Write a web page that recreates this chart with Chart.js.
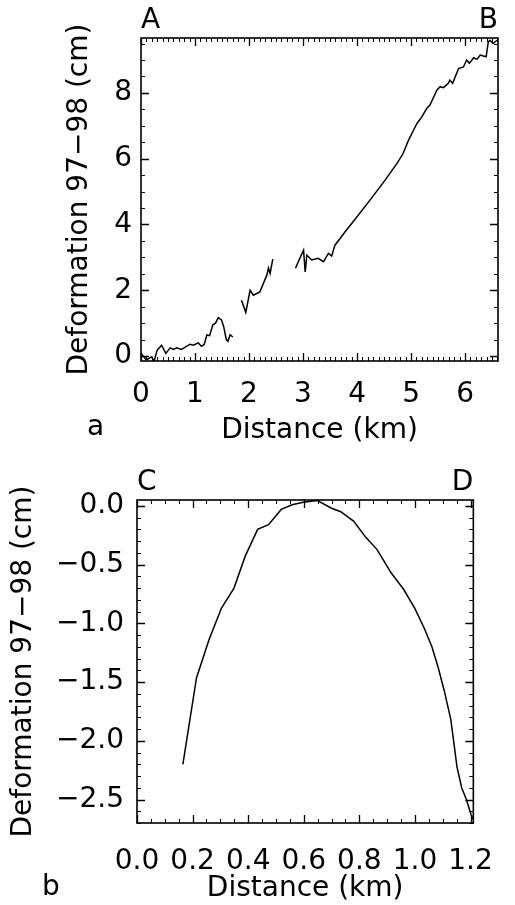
<!DOCTYPE html>
<html>
<head>
<meta charset="utf-8">
<script src="https://cdn.jsdelivr.net/npm/chart.js@4.4.1/dist/chart.umd.min.js"></script>
<style>
  body { margin: 0; background: #fff; }
  #wrap { position: relative; width: 515px; height: 905px; overflow: hidden; }
  canvas { position: absolute; left: 0; }
</style>
</head>
<body>
<div id="wrap">
  <canvas id="chartA" width="515" height="460" style="top:0"></canvas>
  <canvas id="chartB" width="515" height="460" style="top:460px"></canvas>
</div>
<script>
// panel a: profile A-B, three pieces with gaps between them
const distA1 = [0.00, 0.10, 0.20, 0.24, 0.30, 0.38, 0.46, 0.54, 0.60, 0.66, 0.75, 0.85, 0.91, 0.97, 1.06, 1.12, 1.17, 1.22, 1.27, 1.33, 1.38, 1.43, 1.49, 1.53, 1.58, 1.61, 1.65, 1.70];
const defA1  = [0.08, -0.12, -0.02, -0.17, 0.18, 0.33, 0.08, 0.25, 0.20, 0.25, 0.20, 0.30, 0.36, 0.33, 0.40, 0.30, 0.35, 0.64, 0.62, 0.95, 1.00, 1.17, 1.10, 0.90, 0.50, 0.45, 0.65, 0.58];
const distA2 = [1.86, 1.94, 2.02, 2.08, 2.20, 2.33, 2.36, 2.39, 2.44];
const defA2  = [1.70, 1.33, 2.00, 1.85, 1.95, 2.46, 2.68, 2.51, 2.95];
const distA3 = [2.86, 2.94, 3.01, 3.04, 3.07, 3.16, 3.28, 3.38, 3.47, 3.53, 3.59, 3.69, 3.78, 3.96, 4.24, 4.52, 4.74, 4.85, 4.95, 5.05, 5.11, 5.20, 5.29, 5.35, 5.48, 5.54, 5.60, 5.69, 5.72, 5.77, 5.88, 5.97, 6.03, 6.08, 6.16, 6.22, 6.28, 6.34, 6.39, 6.43, 6.46, 6.52, 6.59];
const defA3  = [2.67, 2.97, 3.22, 2.56, 3.07, 2.92, 2.97, 2.87, 3.12, 3.04, 3.37, 3.58, 3.78, 4.15, 4.74, 5.35, 5.86, 6.15, 6.55, 6.88, 7.07, 7.27, 7.53, 7.63, 8.09, 8.19, 8.16, 8.29, 8.39, 8.29, 8.74, 8.79, 9.00, 8.90, 9.07, 9.02, 9.15, 9.12, 9.10, 9.55, 9.60, 9.50, 9.60];
const xTicksA = [0, 1, 2, 3, 4, 5, 6];
const yTicksA = [0, 2, 4, 6, 8];

// panel b: profile C-D
const distB = [0.165, 0.214, 0.259, 0.304, 0.349, 0.389, 0.434, 0.473, 0.519, 0.558, 0.598, 0.649, 0.700, 0.733, 0.779, 0.824, 0.863, 0.886, 0.914, 0.959, 0.999, 1.033, 1.061, 1.084, 1.106, 1.129, 1.140, 1.151, 1.168, 1.185, 1.202, 1.210];
const defB  = [-2.20, -1.465, -1.14, -0.87, -0.70, -0.43, -0.20, -0.16, -0.03, 0.01, 0.03, 0.045, -0.02, -0.05, -0.13, -0.27, -0.37, -0.46, -0.57, -0.71, -0.87, -1.04, -1.20, -1.38, -1.58, -1.82, -2.02, -2.22, -2.40, -2.50, -2.63, -2.67];
const xTicksB = [0, 0.2, 0.4, 0.6, 0.8, 1.0, 1.2];
const yTicksB = [0, -0.5, -1.0, -1.5, -2.0, -2.5];

const yTitle = 'Deformation 97\u221298 (cm)';
const xTitle = 'Distance (km)';

Chart.defaults.font.family = '"DejaVu Sans", sans-serif';
Chart.defaults.font.size = 28;
Chart.defaults.color = '#000';

const toPoints = (xs, ys) => xs.map((x, i) => ({ x, y: ys[i] }));
const minus = s => s.replace('-', '\u2212');

// frame, inward ticks on all four sides, and the letters around the plot
const frameTicks = {
  id: 'frameTicks',
  afterDraw(chart, args, o) {
    const { ctx, chartArea: a, scales: { x, y } } = chart;
    ctx.save();
    ctx.strokeStyle = '#000';
    ctx.lineWidth = 1;
    const marks = (scale, step, len) => {
      const lo = Math.ceil(scale.min / step - 1e-6), hi = Math.floor(scale.max / step + 1e-6);
      for (let i = lo; i <= hi; i++) {
        const p = Math.round(scale.getPixelForValue(i * step)) + 0.5;
        ctx.beginPath();
        if (scale.isHorizontal()) {
          ctx.moveTo(p, a.bottom); ctx.lineTo(p, a.bottom - len);
          ctx.moveTo(p, a.top); ctx.lineTo(p, a.top + len);
        } else {
          ctx.moveTo(a.left, p); ctx.lineTo(a.left + len, p);
          ctx.moveTo(a.right, p); ctx.lineTo(a.right - len, p);
        }
        ctx.stroke();
      }
    };
    marks(x, o.xMinor, 4);
    marks(y, o.yMinor, 4);
    ctx.lineWidth = 1.3;
    marks(x, o.xMajor, 8);
    marks(y, o.yMajor, 8);
    ctx.lineWidth = 1.6;
    ctx.strokeRect(a.left, a.top, a.right - a.left, a.bottom - a.top);

    ctx.fillStyle = '#000';
    ctx.font = '28px "DejaVu Sans"';
    ctx.textBaseline = 'alphabetic';
    ctx.textAlign = 'left';
    ctx.fillText(o.left, a.left, a.top - 10);
    ctx.textAlign = 'right';
    ctx.fillText(o.right, a.right, a.top - 10);
    ctx.textAlign = 'left';
    ctx.fillText(o.panel, o.panelX, o.panelY);
    ctx.restore();
  }
};

function options(cfg) {
  return {
    responsive: false,
    animation: false,
    layout: { padding: cfg.padding },
    plugins: {
      legend: { display: false },
      tooltip: { enabled: false },
      frameTicks: cfg.marks
    },
    scales: {
      x: {
        type: 'linear',
        min: cfg.xMin, max: cfg.xMax,
        grid: { display: false, drawTicks: false },
        border: { display: false },
        afterBuildTicks: s => { s.ticks = cfg.xTicks.map(v => ({ value: v })); },
        afterFit: s => { s.height = cfg.xHeight; },
        ticks: { padding: cfg.xPad, maxRotation: 0, autoSkip: false, callback: cfg.xFmt },
        title: { display: true, text: xTitle, padding: { top: 0, bottom: cfg.xTitlePad } }
      },
      y: {
        type: 'linear',
        min: cfg.yMin, max: cfg.yMax,
        grid: { display: false, drawTicks: false },
        border: { display: false },
        afterBuildTicks: s => { s.ticks = cfg.yTicks.map(v => ({ value: v })); },
        afterFit: s => { s.width = cfg.yWidth; },
        ticks: { padding: cfg.yPad, autoSkip: false, callback: cfg.yFmt },
        title: { display: true, text: yTitle, padding: { top: cfg.yTitlePad, bottom: 0 } }
      }
    }
  };
}

const lineStyle = { borderColor: '#000', borderWidth: 1.5, pointRadius: 0, tension: 0, fill: false };

new Chart(document.getElementById('chartA'), {
  type: 'line',
  data: {
    datasets: [
      { ...lineStyle, data: toPoints(distA1, defA1) },
      { ...lineStyle, data: toPoints(distA2, defA2) },
      { ...lineStyle, data: toPoints(distA3, defA3) }
    ]
  },
  options: options({
    padding: { top: 38, right: 17, left: 0, bottom: 0 },
    xMin: 0, xMax: 6.61, yMin: -0.15, yMax: 9.67,
    xTicks: xTicksA, yTicks: yTicksA,
    xFmt: v => String(v), yFmt: v => String(v),
    xHeight: 99, yWidth: 141, xPad: 17, yPad: 9,
    xTitlePad: 12, yTitlePad: 63,
    marks: { xMajor: 1, xMinor: 0.1, yMajor: 2, yMinor: 0.5, left: 'A', right: 'B', panel: 'a', panelX: 87, panelY: 435 }
  }),
  plugins: [frameTicks]
});

new Chart(document.getElementById('chartB'), {
  type: 'line',
  data: {
    datasets: [{ ...lineStyle, data: toPoints(distB, defB) }]
  },
  options: options({
    padding: { top: 40, right: 21, left: 0, bottom: 0 },
    xMin: 0, xMax: 1.21, yMin: -2.70, yMax: 0.05,
    xTicks: xTicksB, yTicks: yTicksB,
    xFmt: v => v.toFixed(1), yFmt: v => minus(v.toFixed(1)),
    xHeight: 97, yWidth: 137, xPad: 22, yPad: 13,
    xTitlePad: 14, yTitlePad: 7,
    marks: { xMajor: 0.2, xMinor: 0.05, yMajor: 0.5, yMinor: 0.1, left: 'C', right: 'D', panel: 'b', panelX: 42, panelY: 435 }
  }),
  plugins: [frameTicks]
});
</script>
</body>
</html>
